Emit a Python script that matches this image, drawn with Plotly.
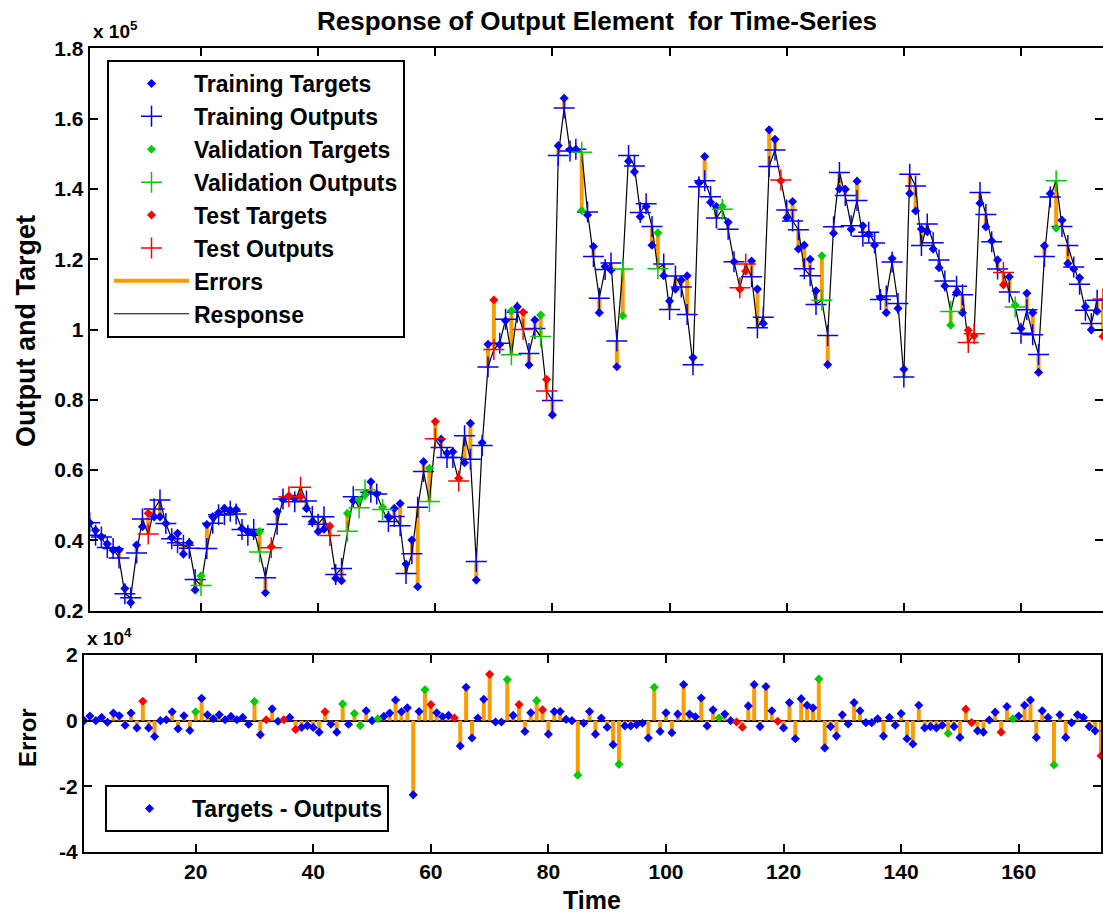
import numpy as np
import plotly.graph_objects as go

# ---------------- data ----------------
time = list(range(1, 175))

# targets in units of 1e5
targets_e5 = [
    0.45, 0.429, 0.41, 0.39, 0.372, 0.373, 0.263, 0.223, 0.387, 0.439,
    0.477, 0.467, 0.467, 0.448, 0.408, 0.42, 0.361, 0.393, 0.259, 0.299,
    0.445, 0.467, 0.479, 0.491, 0.486, 0.488, 0.434, 0.425, 0.42, 0.425,
    0.251, 0.382, 0.482, 0.516, 0.527, 0.52, 0.524, 0.491, 0.453, 0.425,
    0.432, 0.441, 0.292, 0.285, 0.477, 0.513, 0.515, 0.529, 0.567, 0.532,
    0.494, 0.467, 0.491, 0.505, 0.333, 0.401, 0.268, 0.624, 0.605, 0.738,
    0.688, 0.648, 0.652, 0.577, 0.621, 0.733, 0.287, 0.678, 0.958, 1.084,
    0.957, 1.025, 1.053, 1.065, 1.049, 0.899, 1.027, 1.041, 0.858, 0.757,
    1.523, 1.658, 1.512, 1.513, 1.338, 1.326, 1.236, 1.048, 1.179, 1.169,
    0.894, 1.039, 1.479, 1.449, 1.321, 1.35, 1.24, 1.275, 1.153, 1.081,
    1.115, 1.141, 1.153, 0.92, 1.418, 1.492, 1.362, 1.35, 1.35, 1.305,
    1.193, 1.115, 1.166, 1.195, 1.115, 1.017, 1.568, 1.541, 1.423, 1.318,
    1.364, 1.229, 1.24, 1.2, 1.11, 1.21, 0.9, 1.274, 1.4, 1.399,
    1.285, 1.422, 1.295, 1.271, 1.24, 1.091, 1.048, 1.202, 1.06, 0.887,
    1.387, 1.337, 1.286, 1.278, 1.229, 1.176, 1.124, 1.012, 1.105, 1.048,
    0.998, 0.982, 1.359, 1.292, 1.252, 1.198, 1.127, 1.15, 1.07, 1.003,
    1.103, 1.048, 0.878, 1.238, 1.387, 1.288, 1.311, 1.188, 1.172, 1.147,
    1.065, 0.999, 1.052, 0.98,
]

# errors (targets - outputs) in units of 1e4
errors_e4 = [
    0.0, 0.14, 0.0, 0.1, -0.05, 0.23, 0.15, -0.14, 0.23, -0.22,
    0.59, -0.22, -0.48, 0.0, 0.03, 0.27, -0.25, 0.15, -0.3, 0.27,
    0.68, 0.18, 0.06, 0.18, 0.03, 0.13, 0.03, 0.1, -0.11, 0.58,
    -0.43, 0.03, 0.36, -0.02, 0.03, 0.1, -0.27, -0.21, -0.15, -0.21,
    -0.35, 0.27, -0.11, -0.35, 0.51, -0.11, 0.22, -0.15, 0.3, 0.0,
    0.06, 0.13, 0.23, 0.63, 0.27, 0.39, -2.26, 0.28, 0.94, 0.49,
    0.24, 0.12, 0.16, 0.08, -0.77, 1.02, -0.53, 0.08, 0.65, 1.41,
    -0.04, -0.04, 1.25, 0.16, 0.49, -0.33, 0.24, 0.61, 0.33, -0.41,
    0.28, 0.28, 0.04, 0.0, -1.66, -0.08, 0.28, -0.41, 0.08, -0.2,
    -0.73, -1.33, -0.16, -0.16, -0.12, -0.08, -0.53, 1.02, -0.33, 0.24,
    -0.37, 0.2, 1.1, 0.2, 0.12, 0.69, -0.16, 0.33, 0.08, 0.2,
    0.0, -0.04, -0.2, 0.45, 1.1, -0.18, 1.04, 0.3, -0.02, -0.22,
    0.55, -0.55, 0.67, 0.47, 0.39, 1.27, -0.83, -0.18, -0.47, 0.18,
    -0.1, 0.55, 0.3, -0.06, -0.06, 0.06, -0.47, 0.1, -0.14, 0.22,
    -0.55, -0.71, 0.47, -0.22, -0.18, -0.22, -0.14, -0.39, -0.18, -0.51,
    0.35, -0.06, -0.31, -0.35, 0.02, 0.26, -0.35, 0.43, 0.06, 0.14,
    0.47, 0.63, -0.51, 0.3, 0.1, -1.35, 0.18, -0.51, -0.06, 0.18,
    0.1, -0.18, -0.31, -1.07,
]

validation_times = [20, 30, 45, 47, 48, 51, 59, 73, 78, 85, 92, 98, 109, 126, 148, 159, 166]
test_times = [11, 32, 35, 37, 42, 60, 64, 70, 75, 79, 112, 113, 119, 151, 152, 157, 174]

top_ticks = [0.2, 0.4, 0.6, 0.8, 1.0, 1.2, 1.4, 1.6, 1.8]
err_ticks = [-4, -2, 0, 2]
time_ticks = [20, 40, 60, 80, 100, 120, 140, 160]

# ---------------- derived ----------------
t = np.array(time)
targets = np.array(targets_e5) * 1e5
errors = np.array(errors_e4) * 1e4
outputs = targets - errors

cls = np.array(["train"] * len(t), dtype=object)
cls[np.isin(t, validation_times)] = "val"
cls[np.isin(t, test_times)] = "test"

BLUE = "rgb(0,0,255)"
GREEN = "rgb(0,205,0)"
RED = "rgb(255,0,0)"
ORANGE = "rgb(255,155,0)"
FONT = "Liberation Sans"

fig = go.Figure()

# errors in top panel
ex, ey = [], []
for ti, tg, op in zip(t, targets / 1e5, outputs / 1e5):
    ex += [ti, ti, None]
    ey += [tg, op, None]
fig.add_trace(go.Scatter(x=ex, y=ey, mode="lines", line=dict(color=ORANGE, width=4),
                         name="Errors", legendgroup="g7", legendrank=7,
                         xaxis="x", yaxis="y"))
# response line
fig.add_trace(go.Scatter(x=t, y=outputs / 1e5, mode="lines", line=dict(color="black", width=1.2),
                         name="Response", legendgroup="g8", legendrank=8,
                         xaxis="x", yaxis="y"))

groups = [("train", "Training", BLUE), ("val", "Validation", GREEN), ("test", "Test", RED)]
rank = 1
for key, label, col in groups:
    m = cls == key
    fig.add_trace(go.Scatter(x=t[m], y=targets[m] / 1e5, mode="markers",
                             marker=dict(symbol="diamond", size=7, color=col),
                             name=f"{label} Targets", legendgroup=f"g{rank}", legendrank=rank,
                             xaxis="x", yaxis="y"))
    rank += 1
    fig.add_trace(go.Scatter(x=t[m], y=outputs[m] / 1e5, mode="markers",
                             marker=dict(symbol="cross-thin", size=15, color=col,
                                         line=dict(color=col, width=1.5)),
                             name=f"{label} Outputs", legendgroup=f"g{rank}", legendrank=rank,
                             xaxis="x", yaxis="y"))
    rank += 1

# bottom panel: stems
sx, sy = [], []
for ti, e in zip(t, errors / 1e4):
    sx += [ti, ti, None]
    sy += [0, e, None]
fig.add_trace(go.Scatter(x=sx, y=sy, mode="lines", line=dict(color=ORANGE, width=4),
                         showlegend=False, xaxis="x2", yaxis="y2"))
for key, label, col in groups:
    m = cls == key
    fig.add_trace(go.Scatter(x=t[m], y=errors[m] / 1e4, mode="markers",
                             marker=dict(symbol="diamond", size=7, color=col),
                             name="Targets - Outputs", showlegend=(key == "train"),
                             legend="legend2", xaxis="x2", yaxis="y2"))

W, H = 1103, 915
def px(x):
    return x / W
def py(y):
    return 1 - y / H

tickfont = dict(family=FONT, size=21, color="black", weight="bold")
axis_common = dict(showline=True, linecolor="black", linewidth=2, mirror="ticks",
                   ticks="inside", ticklen=8, tickwidth=2, tickcolor="black",
                   showgrid=False, zeroline=False, tickfont=tickfont, automargin=False)

legend_font = dict(family=FONT, size=23, color="black", weight="bold")
fig.update_layout(
    width=W, height=H,
    margin=dict(l=0, r=0, t=0, b=0, autoexpand=False),
    plot_bgcolor="white", paper_bgcolor="white",
    xaxis=dict(domain=[px(89.7), 1.0], range=[1, 174], anchor="y",
               tickvals=time_ticks, showticklabels=False, **axis_common),
    yaxis=dict(domain=[py(610.7), py(48.3)], range=[0.2, 1.8], anchor="x",
               tickvals=top_ticks, ticktext=[f"{v:g}" for v in top_ticks], **axis_common),
    xaxis2=dict(domain=[px(84), px(1101)], range=[1, 174], anchor="y2",
                tickvals=time_ticks, ticktext=[str(v) for v in time_ticks], **axis_common),
    yaxis2=dict(domain=[py(852), py(655)], range=[-4, 2], anchor="x2",
                tickvals=err_ticks, ticktext=[str(v) for v in err_ticks], **axis_common),
    legend=dict(x=px(107), y=py(60), xanchor="left", yanchor="top",
                bordercolor="black", borderwidth=2, bgcolor="white",
                font=legend_font, itemwidth=75, tracegroupgap=0, traceorder="normal"),
    legend2=dict(x=px(105), y=py(785), xanchor="left", yanchor="top",
                 bordercolor="black", borderwidth=2, bgcolor="white",
                 font=legend_font, itemwidth=75),
    showlegend=True,
)
fig.update_yaxes(selector=dict(anchor="x2"), zeroline=True, zerolinecolor="black", zerolinewidth=2)

ann_font = dict(family=FONT, color="black", weight="bold")
annotations = [
    dict(text="Response of Output Element  for Time-Series", x=px(597), y=py(21),
         font=dict(size=26, **ann_font)),
    dict(text="Output and Target", x=px(26), y=py(331), textangle=-90,
         font=dict(size=27, **ann_font)),
    dict(text="Error", x=px(27), y=py(738), textangle=-90,
         font=dict(size=24, **ann_font)),
    dict(text="Time", x=px(592), y=py(900), font=dict(size=25, **ann_font)),
    dict(text="x 10<sup>5</sup>", x=px(91), y=py(30), xanchor="left",
         font=dict(size=19, **ann_font)),
    dict(text="x 10<sup>4</sup>", x=px(85), y=py(637), xanchor="left",
         font=dict(size=19, **ann_font)),
]
for a in annotations:
    a.update(xref="paper", yref="paper", showarrow=False)
    a.setdefault("xanchor", "center")
    a.setdefault("yanchor", "middle")
fig.update_layout(annotations=annotations)

fig.write_html("out.html")
